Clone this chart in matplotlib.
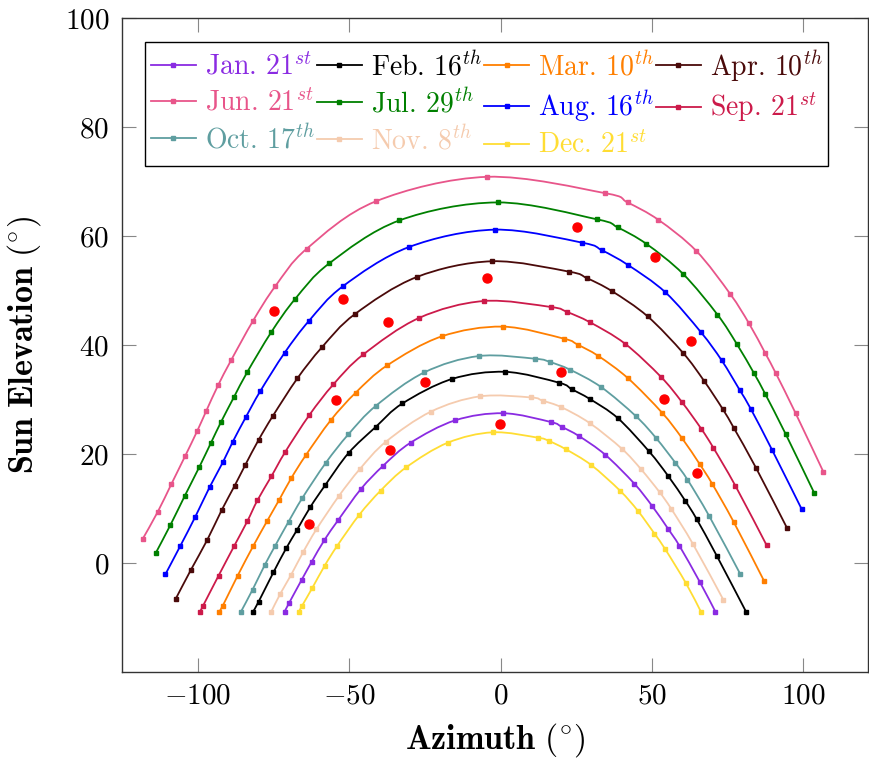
import numpy as np
import matplotlib
matplotlib.use("Agg")
import matplotlib.pyplot as plt
from matplotlib.path import Path
from matplotlib.patches import PathPatch
from matplotlib.lines import Line2D

plt.rcParams['font.family'] = ['cmr10', 'DejaVu Serif']
plt.rcParams['mathtext.fontset'] = 'cm'
plt.rcParams['axes.formatter.use_mathtext'] = True

# ---------------- data ----------------
jan_x = [-71.3, -69.8, -65.7, -62.4, -58.2, -53.6, -46.1, -38.7, -29.7, -15.0, 0.9,
         16.5, 20.2, 25.9, 34.5, 44.1, 50.0, 55.4, 59.0, 65.7, 70.9]
jan_y = [-8.9, -7.3, -3.1, 0.2, 4.2, 7.9, 13.6, 17.9, 22.1, 26.2, 27.5,
         25.9, 25.0, 23.3, 19.9, 14.6, 10.5, 6.2, 3.2, -3.4, -8.9]

feb_x = [-81.7, -79.9, -75.0, -70.8, -67.3, -62.8, -57.9, -50.2, -41.2, -32.4, -16.0, 1.6,
         19.3, 23.5, 29.5, 38.7, 49.0, 55.3, 61.0, 64.7, 71.4, 81.0]
feb_y = [-8.9, -7.1, -1.7, 2.7, 6.0, 10.3, 14.3, 20.2, 25.0, 29.3, 33.8, 35.1,
         33.1, 31.9, 30.1, 26.6, 20.5, 16.0, 11.4, 8.1, 1.3, -8.9]

mar_x = [-92.9, -91.7, -86.8, -81.6, -77.1, -73.1, -69.1, -64.3, -56.1, -47.8, -37.4, -19.5, 0.7,
         20.8, 25.4, 32.3, 42.1, 53.3, 59.8, 65.8, 69.8, 76.9, 87.0]
mar_y = [-8.9, -7.8, -2.3, 3.2, 7.7, 11.6, 15.6, 19.8, 26.2, 31.3, 36.3, 41.6, 43.4,
         41.2, 40.1, 38.0, 33.9, 27.6, 23.0, 18.1, 14.6, 7.6, -3.3]

apr_x = [-107.3, -102.2, -96.9, -92.1, -87.8, -84.3, -79.9, -75.2, -67.1, -59.0, -48.1, -27.7, -2.9,
         22.5, 28.5, 36.8, 48.5, 60.2, 67.1, 73.3, 77.1, 84.3, 94.5]
apr_y = [-6.6, -1.2, 4.2, 9.7, 14.2, 18.0, 22.6, 27.0, 33.9, 39.6, 45.7, 52.5, 55.4,
         53.5, 52.3, 49.9, 45.3, 38.6, 33.5, 28.3, 24.7, 17.5, 6.5]

jun_x = [-118.2, -113.2, -108.7, -104.1, -100.2, -97.2, -93.3, -89.0, -81.7, -74.4, -64.0, -41.2, -4.4,
         34.5, 41.9, 52.1, 64.6, 75.8, 82.0, 87.4, 90.9, 97.4, 106.6]
jun_y = [4.4, 9.4, 14.5, 19.7, 24.2, 27.9, 32.6, 37.2, 44.5, 50.8, 57.7, 66.4, 70.9,
         67.9, 66.2, 63.0, 57.3, 49.4, 44.0, 38.5, 34.8, 27.5, 16.7]

jul_x = [-113.9, -109.0, -104.3, -99.5, -95.6, -92.3, -88.0, -83.6, -75.7, -67.8, -56.6, -33.4, -1.0,
         31.8, 38.7, 48.1, 60.2, 71.6, 78.0, 83.7, 87.4, 94.1, 103.6]
jul_y = [1.8, 7.0, 12.3, 17.6, 22.1, 25.9, 30.5, 35.1, 42.4, 48.5, 55.0, 62.9, 66.2,
         63.1, 61.6, 58.6, 53.1, 45.6, 40.2, 34.8, 31.0, 23.7, 12.8]

aug_x = [-110.7, -105.7, -100.8, -96.1, -91.7, -88.4, -84.0, -79.4, -71.3, -63.2, -52.1, -30.3, -1.9,
         27.0, 33.5, 42.1, 54.4, 66.1, 73.0, 78.9, 82.6, 89.6, 99.4]
aug_y = [-2.1, 3.2, 8.5, 13.9, 18.5, 22.3, 26.9, 31.5, 38.6, 44.5, 50.8, 58.0, 61.2,
         58.8, 57.4, 54.7, 49.7, 42.4, 37.2, 31.8, 28.3, 20.8, 9.9]

sep_x = [-99.2, -98.2, -93.1, -87.9, -83.6, -80.3, -75.7, -71.1, -63.1, -55.2, -45.3, -26.9, -5.6,
         16.6, 21.9, 29.5, 41.0, 52.9, 59.8, 66.3, 70.2, 77.5, 87.8]
sep_y = [-8.9, -7.8, -2.3, 3.2, 7.7, 11.5, 15.9, 20.4, 27.2, 32.8, 38.3, 45.0, 48.1,
         47.0, 46.1, 44.2, 40.3, 34.2, 29.6, 24.6, 21.2, 14.2, 3.3]

oct_x = [-85.7, -81.9, -77.9, -74.4, -70.0, -65.5, -57.7, -50.3, -41.1, -25.2, -7.2,
         11.5, 16.3, 22.9, 33.2, 44.6, 51.4, 57.7, 61.7, 68.9, 79.2]
oct_y = [-8.9, -4.9, -0.4, 3.2, 7.6, 11.9, 18.4, 23.6, 28.9, 35.0, 38.0,
         37.5, 36.9, 35.5, 32.3, 27.0, 22.9, 18.4, 15.3, 8.6, -2.1]

nov_x = [-75.7, -72.7, -69.2, -65.2, -60.8, -53.4, -46.4, -37.8, -23.0, -6.8,
         10.0, 13.9, 20.1, 29.4, 40.0, 46.4, 52.5, 56.4, 63.5, 73.5]
nov_y = [-8.9, -5.6, -2.2, 2.0, 6.2, 12.3, 17.3, 22.3, 27.8, 30.6,
         30.4, 29.8, 28.6, 25.7, 21.0, 17.2, 13.0, 9.9, 3.5, -6.7]

dec_x = [-66.6, -65.5, -62.2, -58.1, -53.9, -46.6, -39.6, -31.1, -17.4, -2.6,
         12.4, 16.0, 21.5, 29.9, 39.4, 45.3, 50.8, 54.4, 61.2, 66.1]
dec_y = [-8.9, -7.8, -4.6, -0.5, 3.2, 8.9, 13.3, 17.6, 22.1, 24.0,
         23.0, 22.4, 20.9, 18.0, 13.3, 9.6, 5.4, 2.5, -3.7, -8.9]

obs_x = [-74.7, -52.1, -54.3, 25.3, -4.6, -37.3, 20.1, -25.0, 50.9, 63.0, 53.8,
         -36.5, -0.2, -63.2, 64.8]
obs_y = [46.3, 48.5, 30.0, 61.6, 52.4, 44.3, 35.0, 33.2, 56.1, 40.7, 30.2,
         20.7, 25.5, 7.2, 16.5]

labels = [r"Jan. $21^{st}$", r"Feb. $16^{th}$", r"Mar. $10^{th}$", r"Apr. $10^{th}$",
          r"Jun. $21^{st}$", r"Jul. $29^{th}$", r"Aug. $16^{th}$", r"Sep. $21^{st}$",
          r"Oct. $17^{th}$", r"Nov. $8^{th}$", r"Dec. $21^{st}$"]
colors = ["#8A2BE2", "#000000", "#FF7F00", "#4A0A0A",
          "#E8558A", "#008000", "#0000FF", "#CC1A4A",
          "#5F9EA0", "#F5CBAE", "#FFDD33"]
series_x = [jan_x, feb_x, mar_x, apr_x, jun_x, jul_x, aug_x, sep_x, oct_x, nov_x, dec_x]
series_y = [jan_y, feb_y, mar_y, apr_y, jun_y, jul_y, aug_y, sep_y, oct_y, nov_y, dec_y]

xticks = [-100, -50, 0, 50, 100]
yticks = [0, 20, 40, 60, 80, 100]


def smooth_path(x, y, k=1/6):
    """Bezier path through the points (pgfplots-like 'smooth')."""
    p = np.column_stack([x, y]).astype(float)
    n = len(p)
    verts = [p[0]]
    codes = [Path.MOVETO]
    for i in range(n - 1):
        p0 = p[i - 1] if i > 0 else p[i]
        p1 = p[i]
        p2 = p[i + 1]
        p3 = p[i + 2] if i + 2 < n else p[i + 1]
        c1 = p1 + (p2 - p0) * k
        c2 = p2 - (p3 - p1) * k
        verts += [c1, c2, p2]
        codes += [Path.CURVE4] * 3
    return Path(verts, codes)


W, H = 869, 760
fig = plt.figure(figsize=(W / 100, H / 100), dpi=100)
ax = fig.add_axes([122 / W, (H - 672) / H, (868 - 122) / W, (672 - 18.3) / H])

handles = []
for xs, ys, c in zip(series_x, series_y, colors):
    ax.add_patch(PathPatch(smooth_path(xs, ys), facecolor='none', edgecolor=c,
                           lw=1.3, zorder=2))
    ax.plot(xs, ys, ls='none', marker='s', ms=3.2, color=c, mec=c, zorder=3)
    handles.append(Line2D([], [], color=c, lw=1.3, marker='s', ms=3.2))

ax.plot(obs_x, obs_y, ls='none', marker='o', ms=6.5, color='#FF0000', mec='#FF0000', zorder=4)

ax.set_xlim(-125, 121.3)
ax.set_ylim(-20, 100)
ax.set_xticks(xticks)
ax.set_yticks(yticks)
ax.tick_params(direction='in', length=10, width=0.8, color='#888888',
               top=True, right=True, labelsize=21, pad=8)
ax.tick_params(axis='y', pad=9)
for s in ax.spines.values():
    s.set_color('#333333')
    s.set_linewidth(1.0)

ax.set_xlabel(r"$\mathbf{Azimuth}\ (^{\circ})$", fontsize=24.5, labelpad=8)
ax.set_ylabel(r"$\mathbf{Sun\ Elevation}\ (^{\circ})$", fontsize=24.5)
ax.yaxis.set_label_coords((43 - 122) / 746, 0.5)

# row-major legend ordering (matplotlib fills columns first)
ncol = 4
nrow = int(np.ceil(len(labels) / ncol))
order = [r * ncol + c for c in range(ncol) for r in range(nrow) if r * ncol + c < len(labels)]
leg = ax.legend([handles[i] for i in order], [labels[i] for i in order], ncol=ncol,
                loc='upper left',
                bbox_to_anchor=(145 / W, 1 - 42 / H), bbox_transform=fig.transFigure,
                borderaxespad=0, fontsize=20, handlelength=1.6, handletextpad=0.33,
                columnspacing=0.08, labelspacing=0.27, borderpad=0.22,
                fancybox=False, framealpha=1, edgecolor='black', numpoints=1)
leg.get_frame().set_linewidth(1.0)
for t, i in zip(leg.get_texts(), order):
    t.set_color(colors[i])

fig.savefig("out.png", dpi=100)
